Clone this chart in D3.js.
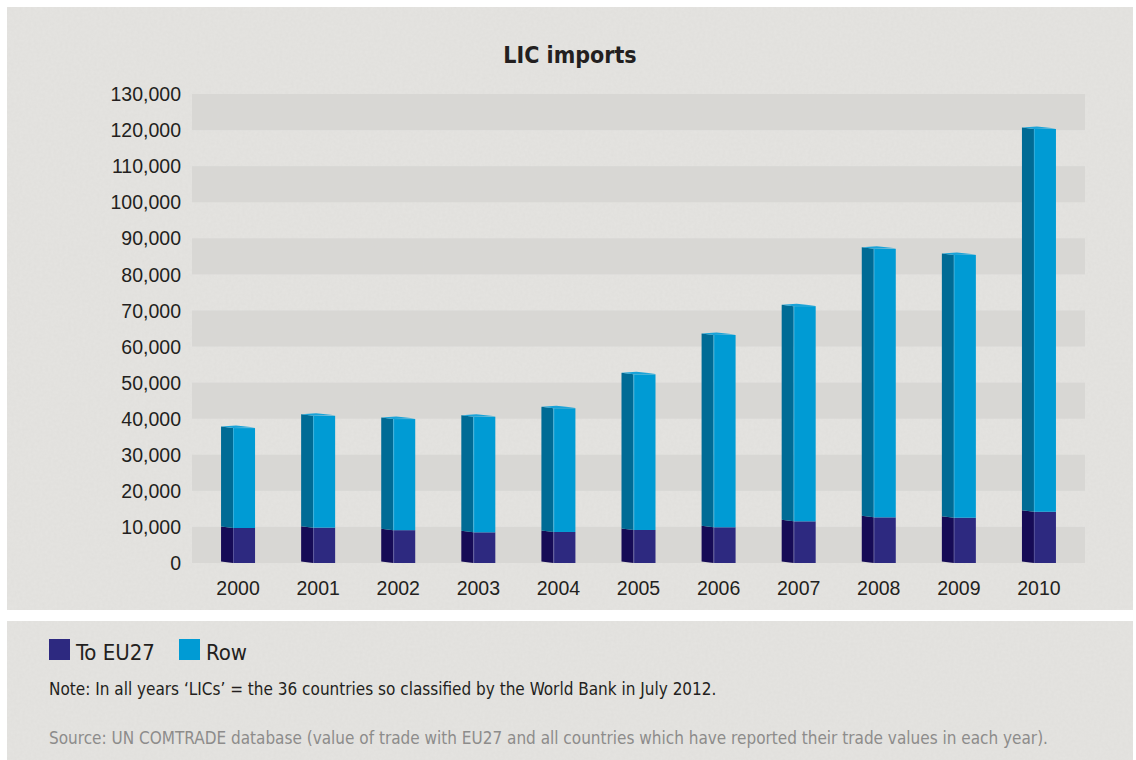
<!DOCTYPE html>
<html>
<head>
<meta charset="utf-8">
<script src="https://cdn.jsdelivr.net/npm/d3@7"></script>
<style>
  html, body { margin: 0; padding: 0; background: #ffffff; }
  svg { display: block; }
</style>
</head>
<body>
<div id="chart"></div>
<script>
// Chart values
var years = ["2000", "2001", "2002", "2003", "2004", "2005", "2006", "2007", "2008", "2009", "2010"];
var toEU27 = [9700, 9800, 9100, 8500, 8600, 9150, 9900, 11550, 12650, 12550, 14200];
var rowValues = [27700, 31000, 30800, 32050, 34300, 43150, 53300, 59650, 74450, 72850, 106100];
var yTicks = [0, 10000, 20000, 30000, 40000, 50000, 60000, 70000, 80000, 90000, 100000, 110000, 120000, 130000];
var legendItems = ["To EU27", "Row"];

var titleText = "LIC imports";
var noteText = "Note: In all years \u2018LICs\u2019 = the 36 countries so classified by the World Bank in July 2012.";
var sourceText = "Source: UN COMTRADE database (value of trade with EU27 and all countries which have reported their trade values in each year).";

// Set some values for positioning
var width = 1136,
    height = 760,
    sideWidth = 12,
    frontWidth = 22,
    slant = 1.5;

// Condensed face for the prose, a Helvetica-like face for the numbers
var font = "'DejaVu Sans Condensed', 'Liberation Sans Narrow', sans-serif";
var numFont = "'Liberation Sans', Arial, sans-serif";
var ink = "#231f20";

var colors = {
    eu: { front: "#2d2980", side: "#160b56" },
    row: { front: "#009bd4", side: "#006b95", top: "#1aa3d8" }
};

var svg = d3.select("#chart").append("svg")
    .attr("width", width)
    .attr("height", height);

// Paper-like grain for the gray panels
var defs = svg.append("defs");
var grain = defs.append("filter").attr("id", "grain")
    .attr("x", 0).attr("y", 0).attr("width", "100%").attr("height", "100%");
grain.append("feTurbulence")
    .attr("type", "fractalNoise")
    .attr("baseFrequency", 0.35)
    .attr("numOctaves", 3)
    .attr("seed", 4);
grain.append("feColorMatrix")
    .attr("type", "matrix")
    .attr("values", "0 0 0 0 0.45  0 0 0 0 0.44  0 0 0 0 0.42  0 0 0 0.10 0");

// Two panels: chart area and the legend / notes area
var panels = [
    { x: 7, y: 7, w: 1126, h: 603 },
    { x: 7, y: 621, w: 1126, h: 139 }
];
panels.forEach(function (p) {
    svg.append("rect")
        .attr("x", p.x).attr("y", p.y)
        .attr("width", p.w).attr("height", p.h)
        .attr("fill", "#e5e4e1");
    svg.append("rect")
        .attr("x", p.x).attr("y", p.y)
        .attr("width", p.w).attr("height", p.h)
        .attr("filter", "url(#grain)");
});

// Scales
var y = d3.scaleLinear()
    .domain([0, 130000])
    .range([563, 94]);

var x = d3.scaleBand()
    .domain(years)
    .range([198, 1079]);

// Alternating shaded bands behind the bars
var bandLeft = 192,
    bandRight = 1085;
svg.append("g")
    .selectAll("rect")
    .data(yTicks.filter(function (t, i) { return i < yTicks.length - 1 && i % 2 === 0; }))
    .enter()
    .append("rect")
        .attr("x", bandLeft)
        .attr("y", function (d) { return y(d + 10000); })
        .attr("width", bandRight - bandLeft)
        .attr("height", function (d) { return y(d) - y(d + 10000); })
        .attr("fill", "#d6d5d2")
        .attr("opacity", 0.85);

// Y axis labels
var yAxis = d3.axisLeft(y)
    .tickValues(yTicks)
    .tickFormat(d3.format(","))
    .tickSize(0)
    .tickPadding(0);

var yAxisG = svg.append("g")
    .attr("transform", "translate(181,0)")
    .call(yAxis);
yAxisG.select(".domain").remove();
yAxisG.selectAll("text")
    .attr("dy", "0.34em")
    .style("font-family", numFont)
    .style("font-size", "19.5px")
    .attr("fill", ink);

// X axis labels
var xAxis = d3.axisBottom(x)
    .tickSize(0)
    .tickPadding(0);

var xAxisG = svg.append("g")
    .attr("transform", "translate(0,581)")
    .call(xAxis);
xAxisG.select(".domain").remove();
xAxisG.selectAll("text")
    .attr("dy", "0.71em")
    .style("font-family", numFont)
    .style("font-size", "19.5px")
    .attr("fill", ink);

// Stacked data: one entry per year with both segments
var stacked = years.map(function (yr, i) {
    return {
        year: yr,
        segments: [
            { key: "eu", y0: 0, y1: toEU27[i] },
            { key: "row", y0: toEU27[i], y1: toEU27[i] + rowValues[i] }
        ]
    };
});

// Draw each bar as a front face plus a darker side face, like a 3D column
var bars = svg.append("g")
    .selectAll("g")
    .data(stacked)
    .enter()
    .append("g")
        .attr("class", "bar");

bars.each(function (d) {
    var g = d3.select(this);
    var left = x(d.year) + x.bandwidth() / 2 - (sideWidth + frontWidth) / 2;
    d.segments.forEach(function (s) {
        var top = y(s.y1),
            bottom = y(s.y0);
        g.append("polygon")
            .attr("points", [
                [left, top - slant],
                [left + sideWidth, top],
                [left + sideWidth, bottom],
                [left, bottom - slant]
            ].join(" "))
            .attr("fill", colors[s.key].side);
        g.append("rect")
            .attr("x", left + sideWidth)
            .attr("y", top)
            .attr("width", frontWidth)
            .attr("height", bottom - top)
            .attr("fill", colors[s.key].front);
    });
    // Thin highlight between side and front
    var total = d.segments[1].y1;
    g.append("line")
        .attr("x1", left + sideWidth + 0.5).attr("x2", left + sideWidth + 0.5)
        .attr("y1", y(total)).attr("y2", y(0))
        .attr("stroke", "#ffffff")
        .attr("stroke-opacity", 0.18);
    // Top cap
    var t = y(total);
    g.append("polygon")
        .attr("points", [
            [left, t - slant],
            [left + sideWidth + 3, t - slant - 1],
            [left + sideWidth + frontWidth, t - 0.5],
            [left + sideWidth, t]
        ].join(" "))
        .attr("fill", colors.row.top);
});

// Title
svg.append("text")
    .attr("x", 570)
    .attr("y", 63)
    .attr("text-anchor", "middle")
    .style("font-family", font)
    .style("font-size", "23px")
    .style("font-weight", "bold")
    .attr("fill", ink)
    .text(titleText);

// Legend
var legendX = [49, 179];
var legend = svg.selectAll(".legend")
    .data(legendItems)
    .enter()
    .append("g")
        .attr("class", "legend");

legend.append("rect")
    .attr("x", function (d, i) { return legendX[i]; })
    .attr("y", 639)
    .attr("width", 21)
    .attr("height", 21)
    .attr("fill", function (d, i) { return i === 0 ? colors.eu.front : colors.row.front; });

legend.append("text")
    .attr("x", function (d, i) { return legendX[i] + 27; })
    .attr("y", 660)
    .style("font-family", font)
    .style("font-size", "22px")
    .attr("fill", ink)
    .text(function (d) { return d; });

// Note and source
svg.append("text")
    .attr("x", 49)
    .attr("y", 695)
    .style("font-family", font)
    .style("font-size", "17px")
    .attr("fill", ink)
    .text(noteText);

svg.append("text")
    .attr("x", 49)
    .attr("y", 744)
    .style("font-family", font)
    .style("font-size", "17px")
    .attr("fill", "#8d8c8b")
    .text(sourceText);
</script>
</body>
</html>
